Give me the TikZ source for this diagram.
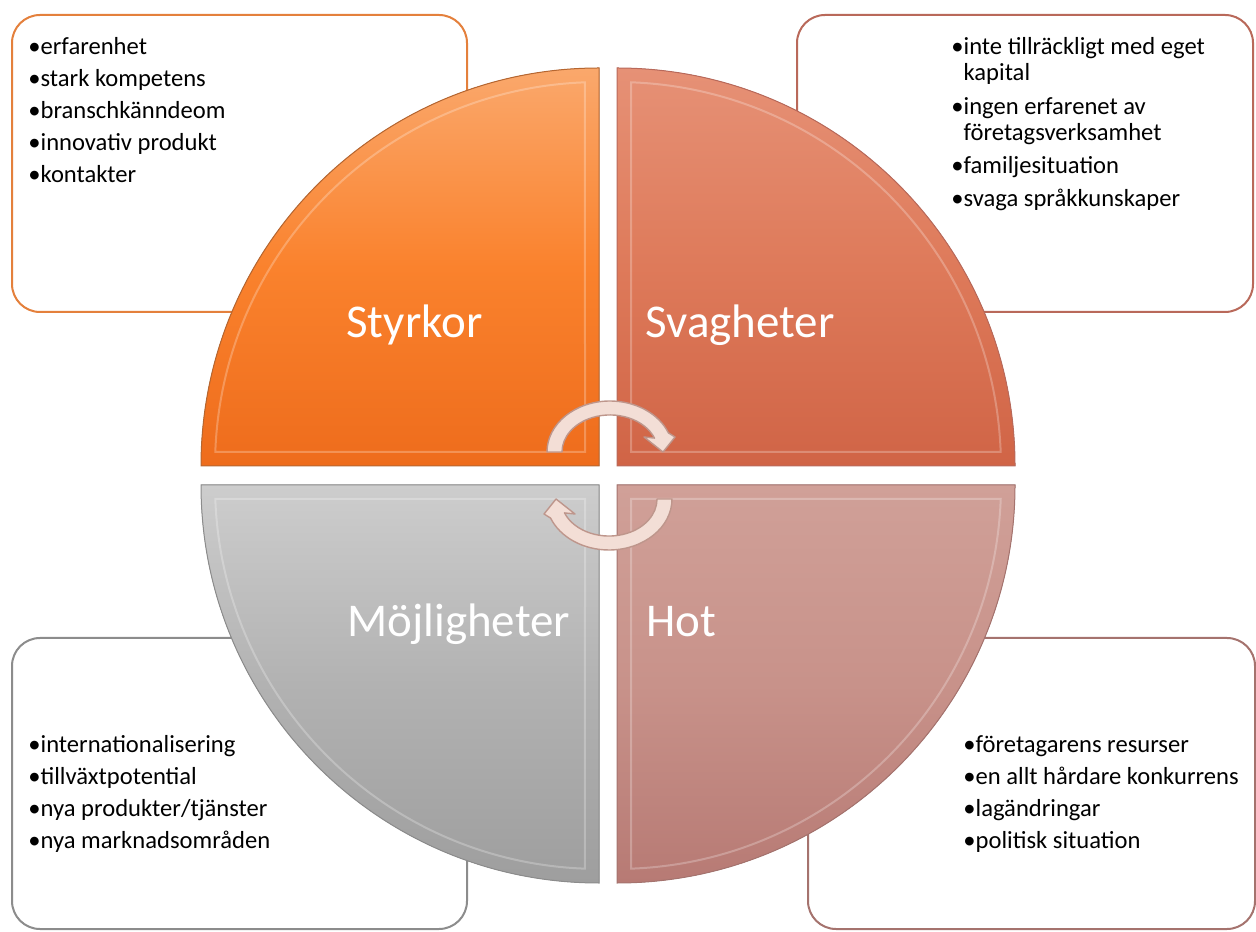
\documentclass[tikz,border=0pt]{standalone}
\usepackage{fontspec}
\setmainfont{Carlito}
\usepackage{xcolor}
\definecolor{stop}{RGB}{250, 168, 108}
\definecolor{smid}{RGB}{250, 130, 45}
\definecolor{sbot}{RGB}{238, 108, 28}
\definecolor{sline}{RGB}{228, 128, 60}
\definecolor{wtop}{RGB}{230, 145, 118}
\definecolor{wmid}{RGB}{222, 122, 90}
\definecolor{wbot}{RGB}{208, 100, 70}
\definecolor{wline}{RGB}{185, 105, 90}
\definecolor{otop}{RGB}{205, 205, 205}
\definecolor{omid}{RGB}{178, 178, 178}
\definecolor{obot}{RGB}{158, 158, 158}
\definecolor{oline}{RGB}{140, 140, 140}
\definecolor{ttop}{RGB}{208, 160, 152}
\definecolor{tmid}{RGB}{200, 146, 138}
\definecolor{tbot}{RGB}{183, 122, 116}
\definecolor{tline}{RGB}{165, 115, 110}
\definecolor{arrowfill}{RGB}{243, 222, 214}
\definecolor{arrowline}{RGB}{190, 150, 140}
\tikzset{
    listbox/.style={draw, fill=white, rounded corners=14pt, line width=1pt, inner sep=0pt},
    listtext/.style={anchor=north west, inner sep=0pt, align=left, text=black, font=\fontsize{12.3}{13}\selectfont},
    quadlabel/.style={anchor=base west, inner sep=0pt, text=white, font=\fontsize{23.5}{28}\selectfont},
    bevel/.style={draw=white, draw opacity=0.25, line width=1pt},
    cyclearrow/.style={fill=arrowfill, draw=arrowline, line width=0.7pt, line join=round}
}

\begin{document}
\begin{tikzpicture}[x=0.5pt, y=0.5pt]
    \useasboundingbox (0,0) rectangle (1256,931);

    % list boxes behind the circle
    \node[listbox, draw=sline, minimum width=227.5pt, minimum height=148.5pt] (sbox) at (239.5,767.5) {};
    \node[listbox, draw=wline, minimum width=228pt, minimum height=148.5pt] (wbox) at (1025,767.5) {};
    \node[listbox, draw=oline, minimum width=227.5pt, minimum height=145.5pt] (obox) at (239.5,147.5) {};
    \node[listbox, draw=tline, minimum width=223.5pt, minimum height=145.5pt] (tbox) at (1031.5,147.5) {};

    % quarter discs
    \fill[top color=stop, bottom color=sbot, middle color=smid, draw=sline!80!black, line width=0.5pt]
        (599,465) -- (201,465) arc[start angle=180, end angle=90, radius=199pt] -- cycle;
    \fill[top color=wtop, bottom color=wbot, middle color=wmid, draw=wline, line width=0.5pt]
        (617,465) -- (617,863) arc[start angle=90, end angle=0, radius=199pt] -- cycle;
    \fill[top color=otop, bottom color=obot, middle color=omid, draw=oline, line width=0.5pt]
        (599,446) -- (201,446) arc[start angle=180, end angle=270, radius=199pt] -- cycle;
    \fill[top color=ttop, bottom color=tbot, middle color=tmid, draw=tline, line width=0.5pt]
        (617,446) -- (1015,446) arc[start angle=0, end angle=-90, radius=199pt] -- cycle;

    % bevel edges
    \draw[bevel] (585,479) -- (215.3,479) arc[start angle=177.9, end angle=92.1, radius=192pt] -- cycle;
    \draw[bevel] (631,479) -- (631,848.7) arc[start angle=87.9, end angle=2.1, radius=192pt] -- cycle;
    \draw[bevel] (585,432) -- (215.3,432) arc[start angle=182.1, end angle=267.9, radius=192pt] -- cycle;
    \draw[bevel] (631,432) -- (1000.7,432) arc[start angle=-2.1, end angle=-87.9, radius=192pt] -- cycle;

    % cycle arrows in the middle
    \draw[cyclearrow] (547,479) arc[start angle=180, end angle=22, x radius=31.5pt, y radius=25.5pt]
        -- (675,494) -- (663,479) -- (644,494) -- (654.5,492.9)
        arc[start angle=22, end angle=180, x radius=24pt, y radius=18.5pt] -- cycle;
    \draw[cyclearrow] (672,432) arc[start angle=0, end angle=-158, x radius=31.5pt, y radius=25.5pt]
        -- (544,417) -- (556,432) -- (575,417) -- (564.5,418.1)
        arc[start angle=-158, end angle=0, x radius=24pt, y radius=18.5pt] -- cycle;

    % quadrant titles
    \node[quadlabel] (styrkor) at (346,593) {Styrkor};
    \node[quadlabel] (svagheter) at (645,593) {Svagheter};
    \node[quadlabel] (mojligheter) at (347,294) {Möjligheter};
    \node[quadlabel] (hot) at (646,294) {Hot};

    % list texts
    \node[listtext] (slist) at (28,894) {•erfarenhet\\[3pt]•stark kompetens\\[3pt]•branschkänndeom\\[3pt]•innovativ produkt\\[3pt]•kontakter};
    \node[listtext] (wlist) at (951,894) {•inte tillräckligt med eget\\\phantom{•}kapital\\[4pt]•ingen erfarenet av\\\phantom{•}företagsverksamhet\\[3.5pt]•familjesituation\\[3.5pt]•svaga språkkunskaper};
    \node[listtext] (olist) at (28,196) {•internationalisering\\[3pt]•tillväxtpotential\\[3pt]•nya produkter/tjänster\\[3pt]•nya marknadsområden};
    \node[listtext] (tlist) at (963,196) {•företagarens resurser\\[3pt]•en allt hårdare konkurrens\\[3pt]•lagändringar\\[3pt]•politisk situation};
\end{tikzpicture}
\end{document}
